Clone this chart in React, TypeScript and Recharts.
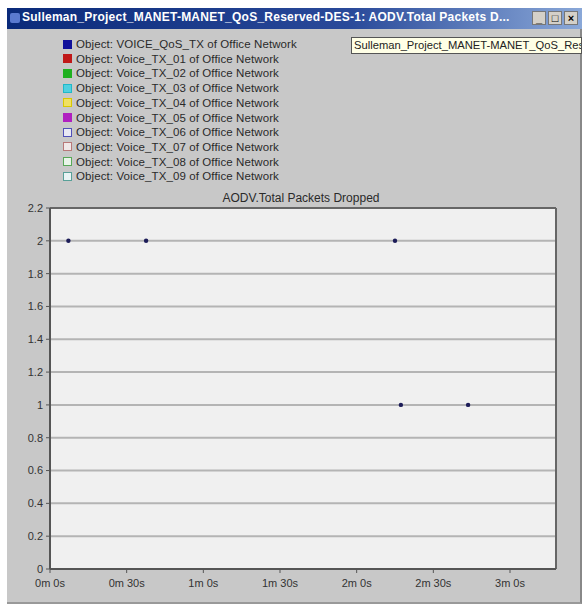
import React from 'react';
import { ScatterChart, Scatter, XAxis, YAxis, CartesianGrid, ReferenceLine } from 'recharts';

const timesSec = [7.2, 37.6, 135, 137.3, 163.6];
const packetsDropped = [2, 2, 2, 1, 1];

const xTicks = [0, 30, 60, 90, 120, 150, 180];
const xTickLabels = ['0m 0s', '0m 30s', '1m 0s', '1m 30s', '2m 0s', '2m 30s', '3m 0s'];
const yTicks = [0, 0.2, 0.4, 0.6, 0.8, 1, 1.2, 1.4, 1.6, 1.8, 2, 2.2];

const seriesNames = [
  'Object: VOICE_QoS_TX of Office Network',
  'Object: Voice_TX_01 of Office Network',
  'Object: Voice_TX_02 of Office Network',
  'Object: Voice_TX_03 of Office Network',
  'Object: Voice_TX_04 of Office Network',
  'Object: Voice_TX_05 of Office Network',
  'Object: Voice_TX_06 of Office Network',
  'Object: Voice_TX_07 of Office Network',
  'Object: Voice_TX_08 of Office Network',
  'Object: Voice_TX_09 of Office Network',
];
const seriesColors = ['#10109a', '#c01818', '#20b020', '#20b8c8', '#d8c800', '#b020c0', '#5050b8', '#b87878', '#58a858', '#58a098'];
const seriesFill = ['#10109a', '#c01818', '#20b020', '#50d0e0', '#f0e060', '#b020c0', '#e8e8f4', '#f0e8e8', '#e8f4e8', '#e8f4f4'];

const windowTitle = 'Sulleman_Project_MANET-MANET_QoS_Reserved-DES-1: AODV.Total Packets D...';
const hintText = 'Sulleman_Project_MANET-MANET_QoS_Reserved-DES-1';
const chartTitle = 'AODV.Total Packets Dropped';

const data = timesSec.map((t, i) => ({ t, v: packetsDropped[i] }));

const font = '"Liberation Sans", Arial, sans-serif';

const Dot = (props: any) => (
  <circle cx={props.cx} cy={props.cy} r={2.2} fill="#1c1c58" />
);

export default function App() {
  return (
    <div style={{ position: 'absolute', left: 0, top: 0, width: 586, height: 607, background: '#fff', overflow: 'hidden', fontFamily: font }}>
      <div style={{ position: 'absolute', left: 7, top: 8, width: 575, height: 596, background: '#c8c8c8', borderRight: '2px solid #888', borderBottom: '2px solid #999', boxSizing: 'border-box' }} />
      <div style={{ position: 'absolute', left: 7, top: 8, width: 575, height: 21, background: 'linear-gradient(to right, #0a2a7a 0%, #2a4a9a 60%, #8aa8d8 100%)' }} />
      <div style={{ position: 'absolute', left: 10, top: 13, width: 10, height: 10, background: '#5a7ad0', borderRadius: 2 }} />
      <div style={{ position: 'absolute', left: 22, top: 10, color: '#fff', fontWeight: 'bold', fontSize: 12, whiteSpace: 'nowrap', letterSpacing: 0.25 }}>{windowTitle}</div>
      {['_', '□', '×'].map((s, i) => (
        <div key={i} style={{ position: 'absolute', left: 532 + i * 16, top: 11, width: 14, height: 14, background: '#d4d0c8', border: '1px solid #777', boxSizing: 'border-box', fontSize: 11, lineHeight: '12px', textAlign: 'center', color: '#000', fontWeight: 'bold' }}>{s}</div>
      ))}
      <div style={{ position: 'absolute', left: 351, top: 37, width: 231, height: 17, background: '#ffffe6', border: '1px solid #555', boxSizing: 'border-box', overflow: 'hidden', whiteSpace: 'nowrap', fontSize: 11.2, lineHeight: '15px', paddingLeft: 2, color: '#222' }}>{hintText}</div>
      {seriesNames.map((name, i) => (
        <div key={name} style={{ position: 'absolute', left: 63, top: 37 + i * 14.7, height: 14, display: 'flex', alignItems: 'center', whiteSpace: 'nowrap' }}>
          <div style={{ width: 9, height: 9, background: seriesFill[i], border: `1.5px solid ${seriesColors[i]}`, boxSizing: 'border-box', marginRight: 4 }} />
          <span style={{ fontSize: 11.5, color: '#2a2a2a', letterSpacing: 0.1 }}>{name}</span>
        </div>
      ))}
      <div style={{ position: 'absolute', left: 201, width: 200, top: 191, textAlign: 'center', fontSize: 12, color: '#2a2a2a' }}>{chartTitle}</div>
      <div style={{ position: 'absolute', left: 0, top: 0 }}>
        <ScatterChart width={586} height={607} margin={{ top: 208, right: 30, bottom: 13, left: 10 }}>
          <CartesianGrid vertical={false} fill="#f0f0f0" stroke="#b4b4b4" strokeWidth={2} />
          <XAxis
            type="number"
            dataKey="t"
            domain={[0, 198]}
            ticks={xTicks}
            allowDataOverflow
            height={25}
            tickSize={4}
            tickMargin={6}
            tickFormatter={(v: number) => xTickLabels[xTicks.indexOf(v)] ?? ''}
            tick={{ fontSize: 11, fill: '#333', fontFamily: font }}
            axisLine={{ stroke: '#555', strokeWidth: 2 }}
            tickLine={{ stroke: '#555' }}
          />
          <YAxis
            type="number"
            dataKey="v"
            domain={[0, 2.2]}
            ticks={yTicks}
            allowDataOverflow
            width={40}
            tickSize={4}
            tickMargin={3}
            tickFormatter={(v: number) => String(parseFloat(v.toFixed(1)))}
            tick={{ fontSize: 11, fill: '#333', fontFamily: font }}
            axisLine={{ stroke: '#555', strokeWidth: 2 }}
            tickLine={{ stroke: '#555' }}
          />
          <ReferenceLine y={2.2} stroke="#666" strokeWidth={2} />
          <ReferenceLine x={198} stroke="#666" strokeWidth={2} />
          <Scatter data={data} shape={<Dot />} isAnimationActive={false} />
        </ScatterChart>
      </div>
    </div>
  );
}
